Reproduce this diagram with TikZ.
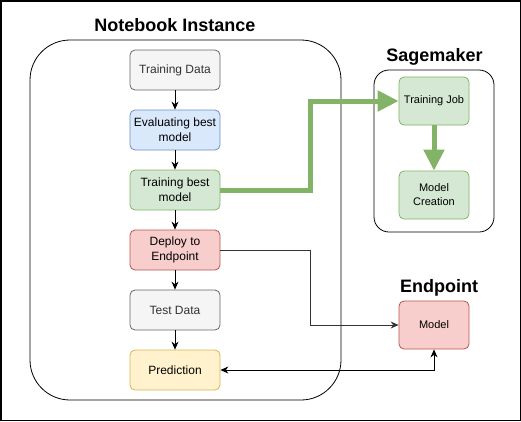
\documentclass[tikz,border=0pt]{standalone}
\usepackage{fontspec}
\setmainfont{Liberation Sans}
\usetikzlibrary{arrows.meta}

\definecolor{grayfill}{HTML}{F5F5F5}
\definecolor{grayline}{HTML}{666666}
\definecolor{bluefill}{HTML}{DAE8FC}
\definecolor{blueline}{HTML}{6C8EBF}
\definecolor{greenfill}{HTML}{D5E8D4}
\definecolor{greenline}{HTML}{82B366}
\definecolor{redfill}{HTML}{F8CECC}
\definecolor{redline}{HTML}{B85450}
\definecolor{yellowfill}{HTML}{FFF2CC}
\definecolor{yellowline}{HTML}{D6B656}
\definecolor{darktext}{HTML}{333333}

\tikzset{
  stepbox/.style={draw, rounded corners=5pt, line width=0.8pt, align=center,
    minimum width=90pt, minimum height=40pt, inner sep=0pt,
    font=\fontsize{12}{15}\selectfont},
  smallbox/.style={stepbox, minimum width=70pt, minimum height=48pt,
    font=\fontsize{11}{14}\selectfont},
  graybox/.style={fill=grayfill, draw=grayline, text=darktext},
  bluebox/.style={fill=bluefill, draw=blueline},
  greenbox/.style={fill=greenfill, draw=greenline},
  redbox/.style={fill=redfill, draw=redline},
  yellowbox/.style={fill=yellowfill, draw=yellowline},
  groupbox/.style={draw, line width=0.8pt, inner sep=0pt},
  grouptitle/.style={anchor=base, inner sep=0pt, font=\fontsize{18}{21}\selectfont\bfseries},
  flow/.style={-{Stealth[length=8pt,width=7pt]}, line width=0.8pt},
  bigflow/.style={-{Triangle[length=21pt,width=20pt]}, line width=5pt, draw=greenline},
}

\begin{document}
\begin{tikzpicture}[x=1pt,y=-1pt]
  \useasboundingbox (0,0) rectangle (521,421);
  \draw[line width=1.5pt] (0.75,0.75) rectangle (520.25,420.25);

  % groups
  \node[groupbox, rounded corners=40pt, minimum width=311pt, minimum height=360pt] (nbgroup) at (185.5,220) {};
  \node[grouptitle] (nbtitle) at (175,31) {Notebook Instance};
  \node[groupbox, rounded corners=15pt, minimum width=120pt, minimum height=162pt] (smgroup) at (434,151) {};
  \node[grouptitle] (smtitle) at (434.5,61) {Sagemaker};
  \node[grouptitle] (eptitle) at (439,292) {Endpoint};

  % notebook steps
  \node[stepbox, graybox] (traindata) at (175,70) {Training Data};
  \node[stepbox, bluebox] (evalbest) at (175,130) {Evaluating best\\model};
  \node[stepbox, greenbox] (trainbest) at (175,190) {Training best\\model};
  \node[stepbox, redbox] (deploy) at (175,250) {Deploy to\\Endpoint};
  \node[stepbox, graybox] (testdata) at (175,310) {Test Data};
  \node[stepbox, yellowbox] (predict) at (175,370) {Prediction};

  % sagemaker and endpoint
  \node[smallbox, greenbox] (trainjob) at (434,101) {Training Job};
  \node[smallbox, greenbox] (modelcreate) at (434,195) {Model\\Creation};
  \node[smallbox, redbox] (model) at (434,325) {Model};

  % connectors
  \draw[flow] (traindata) -- (evalbest);
  \draw[flow] (evalbest) -- (trainbest);
  \draw[flow] (trainbest) -- (deploy);
  \draw[flow] (deploy) -- (testdata);
  \draw[flow] (testdata) -- (predict);
  \draw[bigflow] (trainbest.east) -- ++(90,0) |- (trainjob.west);
  \draw[bigflow] (trainjob) -- (modelcreate);
  \draw[flow, draw=darktext] (deploy.east) -- ++(90,0) |- (model.west);
  \draw[flow, {Stealth[length=8pt,width=7pt]}-{Stealth[length=8pt,width=7pt]}] (predict.east) -| (model.south);
\end{tikzpicture}
\end{document}
